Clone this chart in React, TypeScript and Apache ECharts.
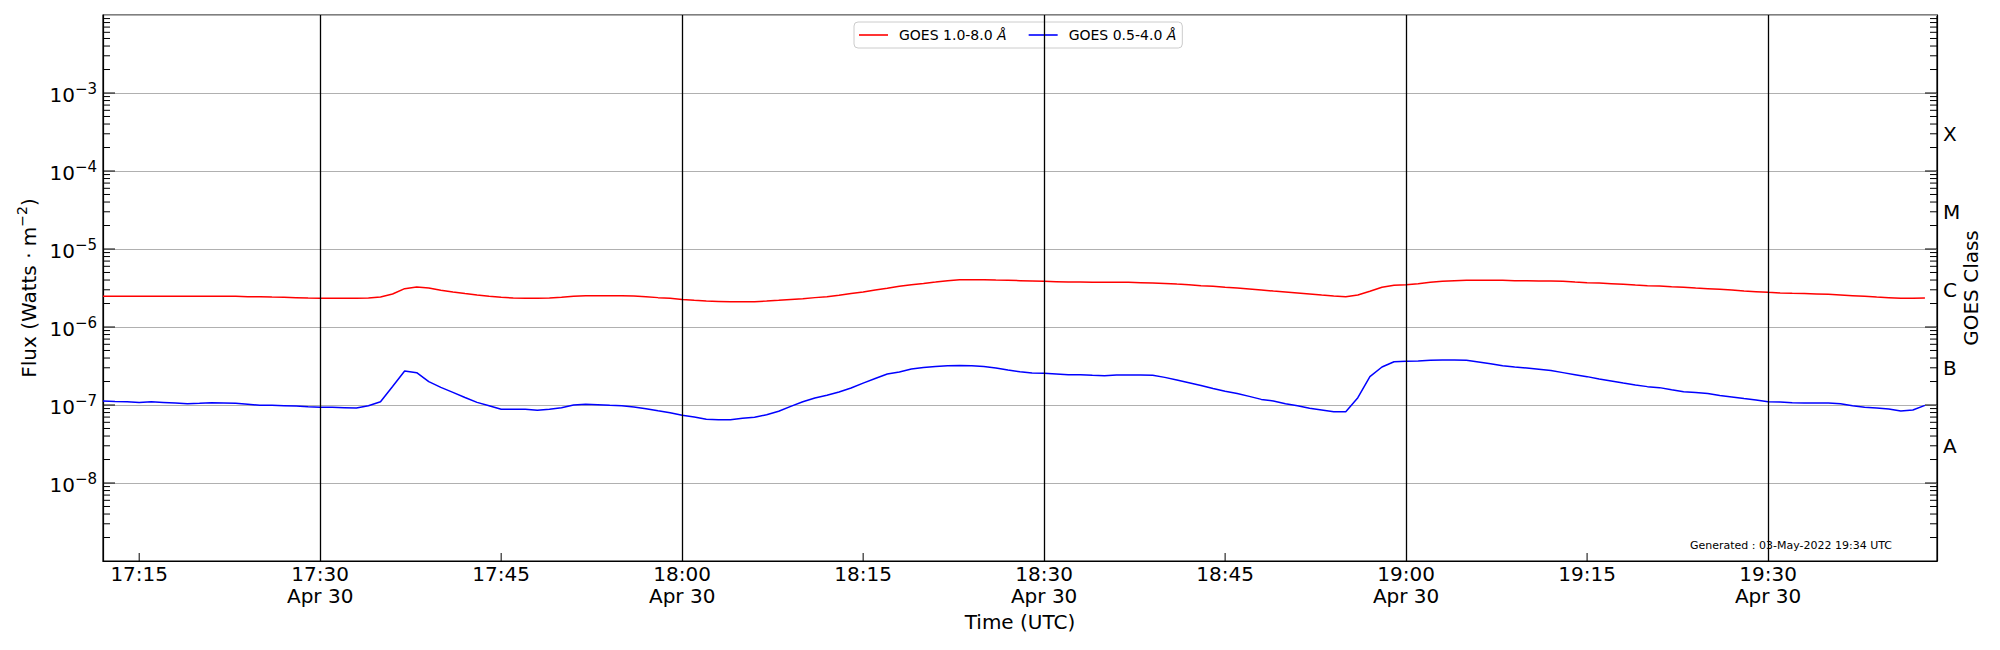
import React, { useEffect, useRef } from "react";
import * as echarts from "echarts";

// ---------- data ----------
const DAY = [2022, 3, 30]; // 30 Apr 2022 (UTC)
const START_TIME = "17:12"; // first sample
const STEP_MS = 60000; // 1-minute cadence
const X_MIN_TIME = "17:12";
const X_MAX_TIME = "19:44";

// GOES 1.0-8.0 Å (W/m^2), one value per minute from 17:12
const LONG_FLUX = [
  2.47e-6, 2.47e-6, 2.47e-6, 2.47e-6, 2.47e-6, 2.47e-6, 2.47e-6, 2.47e-6, 2.47e-6, 2.47e-6,
  2.47e-6, 2.47e-6, 2.45e-6, 2.45e-6, 2.42e-6, 2.40e-6, 2.38e-6, 2.35e-6, 2.33e-6, 2.33e-6,
  2.33e-6, 2.33e-6, 2.35e-6, 2.42e-6, 2.65e-6, 3.10e-6, 3.26e-6, 3.16e-6, 2.95e-6, 2.81e-6,
  2.68e-6, 2.57e-6, 2.47e-6, 2.40e-6, 2.35e-6, 2.33e-6, 2.33e-6, 2.35e-6, 2.40e-6, 2.47e-6,
  2.52e-6, 2.52e-6, 2.52e-6, 2.52e-6, 2.50e-6, 2.45e-6, 2.38e-6, 2.33e-6, 2.26e-6, 2.20e-6,
  2.15e-6, 2.13e-6, 2.11e-6, 2.11e-6, 2.11e-6, 2.15e-6, 2.20e-6, 2.26e-6, 2.31e-6, 2.38e-6,
  2.45e-6, 2.55e-6, 2.68e-6, 2.81e-6, 2.98e-6, 3.13e-6, 3.32e-6, 3.49e-6, 3.62e-6, 3.77e-6,
  3.93e-6, 4.04e-6, 4.04e-6, 4.04e-6, 4.00e-6, 3.97e-6, 3.93e-6, 3.89e-6, 3.85e-6, 3.81e-6,
  3.77e-6, 3.77e-6, 3.74e-6, 3.74e-6, 3.74e-6, 3.74e-6, 3.70e-6, 3.66e-6, 3.62e-6, 3.55e-6,
  3.49e-6, 3.39e-6, 3.32e-6, 3.23e-6, 3.16e-6, 3.07e-6, 2.98e-6, 2.89e-6, 2.81e-6, 2.73e-6,
  2.65e-6, 2.57e-6, 2.50e-6, 2.45e-6, 2.57e-6, 2.87e-6, 3.23e-6, 3.42e-6, 3.49e-6, 3.59e-6,
  3.74e-6, 3.85e-6, 3.93e-6, 3.97e-6, 3.97e-6, 3.97e-6, 3.97e-6, 3.93e-6, 3.93e-6, 3.89e-6,
  3.89e-6, 3.85e-6, 3.77e-6, 3.70e-6, 3.66e-6, 3.59e-6, 3.52e-6, 3.45e-6, 3.39e-6, 3.36e-6,
  3.29e-6, 3.23e-6, 3.16e-6, 3.10e-6, 3.04e-6, 2.98e-6, 2.89e-6, 2.84e-6, 2.78e-6, 2.73e-6,
  2.70e-6, 2.68e-6, 2.65e-6, 2.62e-6, 2.57e-6, 2.52e-6, 2.47e-6, 2.42e-6, 2.38e-6, 2.33e-6,
  2.33e-6, 2.35e-6,
];

// GOES 0.5-4.0 Å (W/m^2), one value per minute from 17:12
const SHORT_FLUX = [
  1.125e-7, 1.11e-7, 1.10e-7, 1.08e-7, 1.10e-7, 1.08e-7, 1.06e-7, 1.04e-7, 1.05e-7, 1.07e-7,
  1.06e-7, 1.05e-7, 1.02e-7, 9.9e-8, 9.9e-8, 9.8e-8, 9.7e-8, 9.5e-8, 9.33e-8, 9.33e-8,
  9.25e-8, 9.15e-8, 9.8e-8, 1.10e-7, 1.73e-7, 2.73e-7, 2.60e-7, 1.99e-7, 1.68e-7, 1.45e-7,
  1.25e-7, 1.08e-7, 9.8e-8, 8.8e-8, 8.8e-8, 8.8e-8, 8.54e-8, 8.8e-8, 9.2e-8, 1.00e-7,
  1.02e-7, 1.01e-7, 9.9e-8, 9.8e-8, 9.4e-8, 8.97e-8, 8.45e-8, 7.97e-8, 7.38e-8, 7.03e-8,
  6.55e-8, 6.49e-8, 6.49e-8, 6.74e-8, 6.96e-8, 7.52e-8, 8.30e-8, 9.6e-8, 1.10e-7, 1.23e-7,
  1.33e-7, 1.47e-7, 1.65e-7, 1.91e-7, 2.19e-7, 2.50e-7, 2.65e-7, 2.89e-7, 3.02e-7, 3.11e-7,
  3.19e-7, 3.22e-7, 3.19e-7, 3.11e-7, 2.98e-7, 2.81e-7, 2.67e-7, 2.57e-7, 2.55e-7, 2.50e-7,
  2.45e-7, 2.45e-7, 2.40e-7, 2.38e-7, 2.43e-7, 2.43e-7, 2.43e-7, 2.40e-7, 2.26e-7, 2.09e-7,
  1.93e-7, 1.78e-7, 1.63e-7, 1.50e-7, 1.40e-7, 1.29e-7, 1.18e-7, 1.125e-7, 1.04e-7, 9.8e-8,
  9.06e-8, 8.63e-8, 8.22e-8, 8.22e-8, 1.24e-7, 2.31e-7, 3.07e-7, 3.59e-7, 3.63e-7, 3.67e-7,
  3.74e-7, 3.78e-7, 3.78e-7, 3.74e-7, 3.56e-7, 3.39e-7, 3.19e-7, 3.07e-7, 2.98e-7, 2.87e-7,
  2.76e-7, 2.60e-7, 2.45e-7, 2.31e-7, 2.15e-7, 2.03e-7, 1.91e-7, 1.80e-7, 1.72e-7, 1.67e-7,
  1.57e-7, 1.48e-7, 1.45e-7, 1.40e-7, 1.32e-7, 1.27e-7, 1.21e-7, 1.16e-7, 1.10e-7, 1.09e-7,
  1.07e-7, 1.06e-7, 1.06e-7, 1.06e-7, 1.04e-7, 9.8e-8, 9.33e-8, 9.15e-8, 8.88e-8, 8.38e-8,
  8.63e-8, 9.9e-8,
];

const SERIES_NAMES = ["GOES 1.0-8.0 ", "GOES 0.5-4.0 "];
const SERIES_UNIT = "Å";
const SERIES_COLORS = ["#ff0000", "#0000ff"];

const X_LABEL_TIMES = ["17:15", "17:30", "17:45", "18:00", "18:15", "18:30", "18:45", "19:00", "19:15", "19:30"];
const X_TICK_TIMES = ["17:15", "17:45", "18:15", "18:45", "19:15"];
const X_LINE_TIMES = ["17:30", "18:00", "18:30", "19:00", "19:30"];
const DATE_LABEL = "Apr 30";

const Y_MIN = 1e-9;
const Y_MAX = 1e-2;
const Y_DECADES = [-9, -8, -7, -6, -5, -4, -3];
const Y_MINOR_MULTS = [2, 3, 4, 5, 6, 7, 8, 9];

const CLASS_LABELS = ["A", "B", "C", "M", "X"];
const CLASS_EXPONENTS = [-7.5, -6.5, -5.5, -4.5, -3.5];

const X_NAME = "Time (UTC)";
const Y_NAME_PARTS = ["Flux (Watts · m", "−2", ")"];
const Y2_NAME = "GOES Class";
const GENERATED = "Generated : 03-May-2022 19:34 UTC";

// ---------- helpers ----------
const FONT = "DejaVu Sans";
const toMs = (hhmm: string) => {
  const [h, m] = hhmm.split(":").map(Number);
  return Date.UTC(DAY[0], DAY[1], DAY[2], h, m);
};
const X_MIN = toMs(X_MIN_TIME);
const X_MAX = toMs(X_MAX_TIME);
const START = toMs(START_TIME);
const pad = (n: number) => (n < 10 ? "0" + n : "" + n);

const seriesData = (vals: number[]) => vals.map((v, i) => [START + i * STEP_MS, v]);

export default function App() {
  const ref = useRef<HTMLDivElement>(null);

  useEffect(() => {
    if (!ref.current) return;
    const chart = echarts.init(ref.current, null, { renderer: "svg" });

    // tick marks: [x, y, kind] kind 0 = major y, 1 = minor y, 2 = x tick
    const tickData: number[][] = [];
    Y_DECADES.forEach((e) => {
      if (e > -9) tickData.push([X_MIN, Math.pow(10, e), 0]);
      Y_MINOR_MULTS.forEach((m) => tickData.push([X_MIN, m * Math.pow(10, e), 1]));
    });
    X_TICK_TIMES.forEach((t) => tickData.push([toMs(t), Y_MIN, 2]));

    const classData = CLASS_EXPONENTS.map((e, i) => [X_MAX, Math.pow(10, e), i]);

    const option: any = {
      animation: false,
      backgroundColor: "#ffffff",
      textStyle: { fontFamily: FONT, color: "#000" },
      grid: {
        left: 103,
        right: 63,
        top: 15,
        bottom: 89,
        show: true,
        borderColor: "#000",
        borderWidth: 1.2,
        backgroundColor: "transparent",
      },
      legend: {
        left: 854,
        top: 22,
        orient: "horizontal",
        padding: [6, 6, 6, 5],
        itemGap: 22,
        itemWidth: 29,
        itemHeight: 1.6,
        icon: "rect",
        borderColor: "#cccccc",
        borderWidth: 1,
        borderRadius: 4,
        backgroundColor: "rgba(255,255,255,0.8)",
        data: SERIES_NAMES.map((n) => n + SERIES_UNIT),
        formatter: (name: string) => {
          const base = name.slice(0, name.length - SERIES_UNIT.length);
          return `{n|${base}}{i|${SERIES_UNIT}}`;
        },
        textStyle: {
          fontFamily: FONT,
          fontSize: 14,
          color: "#000",
          padding: [0, 0, 0, 6],
          rich: {
            n: { fontFamily: FONT, fontSize: 14, color: "#000" },
            i: { fontFamily: FONT, fontSize: 14, color: "#000", fontStyle: "italic" },
          },
        },
      },
      xAxis: {
        type: "value",
        min: X_MIN,
        max: X_MAX,
        name: X_NAME,
        nameLocation: "middle",
        nameGap: 51,
        nameTextStyle: { fontFamily: FONT, fontSize: 20, color: "#000" },
        axisLine: { show: true, lineStyle: { color: "#000", width: 1.2 } },
        axisTick: { show: false },
        splitLine: { show: false },
        axisLabel: {
          customValues: X_LABEL_TIMES.map(toMs),
          margin: 2,
          fontFamily: FONT,
          fontSize: 20,
          lineHeight: 22,
          color: "#000",
          formatter: (v: number) => {
            const d = new Date(v);
            const hh = pad(d.getUTCHours());
            const mm = d.getUTCMinutes();
            const s = `${hh}:${pad(mm)}`;
            return mm % 30 === 0 ? `${s}\n${DATE_LABEL}` : s;
          },
        },
      },
      yAxis: [
        {
          type: "log",
          logBase: 10,
          min: Y_MIN,
          max: Y_MAX,
          interval: 1,
          position: "left",
          name: `{n|${Y_NAME_PARTS[0]}}{s|${Y_NAME_PARTS[1]}}{n|${Y_NAME_PARTS[2]}}`,
          nameLocation: "middle",
          nameRotate: 90,
          nameGap: 64,
          nameTextStyle: {
            fontFamily: FONT,
            fontSize: 20,
            color: "#000",
            rich: {
              n: { fontFamily: FONT, fontSize: 20, lineHeight: 24, verticalAlign: "bottom", color: "#000" },
              s: { fontFamily: FONT, fontSize: 14, lineHeight: 14, verticalAlign: "top", color: "#000" },
            },
          },
          axisLine: { show: true, lineStyle: { color: "#000", width: 1.2 } },
          axisTick: { show: false },
          splitLine: { show: true, lineStyle: { color: "#b0b0b0", width: 1 } },
          axisLabel: {
            margin: 6,
            formatter: (v: number) => {
              const e = Math.round(Math.log10(v));
              if (e <= -9 || e >= -2) return "";
              return `{b|10}{s|−${-e}}`;
            },
            rich: {
              b: { fontFamily: FONT, fontSize: 20, lineHeight: 24, verticalAlign: "bottom", color: "#000" },
              s: { fontFamily: FONT, fontSize: 15, lineHeight: 15, verticalAlign: "top", color: "#000" },
            },
          },
        },
        {
          type: "log",
          logBase: 10,
          min: Y_MIN,
          max: Y_MAX,
          interval: 1,
          position: "right",
          name: Y2_NAME,
          nameLocation: "middle",
          nameRotate: 90,
          nameGap: 24,
          nameTextStyle: { fontFamily: FONT, fontSize: 20, color: "#000" },
          axisLine: { show: true, lineStyle: { color: "#000", width: 1.2 } },
          axisTick: { show: false },
          axisLabel: { show: false },
          splitLine: { show: false },
        },
      ],
      series: [
        {
          name: SERIES_NAMES[0] + SERIES_UNIT,
          type: "line",
          data: seriesData(LONG_FLUX),
          symbol: "none",
          showSymbol: false,
          color: SERIES_COLORS[0],
          itemStyle: { color: SERIES_COLORS[0] },
          lineStyle: { color: SERIES_COLORS[0], width: 1.5 },
          z: 3,
          markLine: {
            silent: true,
            symbol: ["none", "none"],
            label: { show: false },
            lineStyle: { color: "#000", width: 1.3, type: "solid" },
            data: X_LINE_TIMES.map((t) => ({ xAxis: toMs(t) })),
          },
        },
        {
          name: SERIES_NAMES[1] + SERIES_UNIT,
          type: "line",
          data: seriesData(SHORT_FLUX),
          symbol: "none",
          showSymbol: false,
          color: SERIES_COLORS[1],
          itemStyle: { color: SERIES_COLORS[1] },
          lineStyle: { color: SERIES_COLORS[1], width: 1.5 },
          z: 3,
        },
        {
          type: "custom",
          silent: true,
          clip: false,
          z: 5,
          encode: { x: 0, y: 1 },
          data: tickData,
          renderItem: (params: any, api: any) => {
            const cs = params.coordSys;
            const kind = api.value(2);
            const style = { stroke: "#000", lineWidth: 1 };
            if (kind === 2) {
              const p = api.coord([api.value(0), Y_MIN]);
              const yb = cs.y + cs.height;
              return { type: "line", shape: { x1: p[0], y1: yb, x2: p[0], y2: yb - 8 }, style };
            }
            const p = api.coord([X_MIN, api.value(1)]);
            const len = kind === 0 ? 12 : 7;
            const xl = cs.x;
            const xr = cs.x + cs.width;
            return {
              type: "group",
              children: [
                { type: "line", shape: { x1: xl, y1: p[1], x2: xl + len, y2: p[1] }, style },
                { type: "line", shape: { x1: xr - len, y1: p[1], x2: xr, y2: p[1] }, style },
              ],
            };
          },
        },
        {
          type: "custom",
          silent: true,
          clip: false,
          z: 5,
          encode: { x: 0, y: 1 },
          data: classData,
          renderItem: (params: any, api: any) => {
            const p = api.coord([X_MAX, api.value(1)]);
            return {
              type: "text",
              x: p[0] + 6,
              y: p[1] + 2,
              style: {
                text: CLASS_LABELS[api.value(2)],
                fontFamily: FONT,
                fontSize: 20,
                fill: "#000",
                align: "left",
                verticalAlign: "middle",
              },
            };
          },
        },
      ],
      graphic: [
        {
          type: "text",
          right: 108,
          top: 540,
          style: { text: GENERATED, fontFamily: FONT, fontSize: 11, fill: "#000" },
          silent: true,
        },
      ],
    };

    chart.setOption(option);
    return () => chart.dispose();
  }, []);

  return (
    <div
      ref={ref}
      style={{ position: "fixed", left: 0, top: 0, width: 2000, height: 650, background: "#fff" }}
    />
  );
}
